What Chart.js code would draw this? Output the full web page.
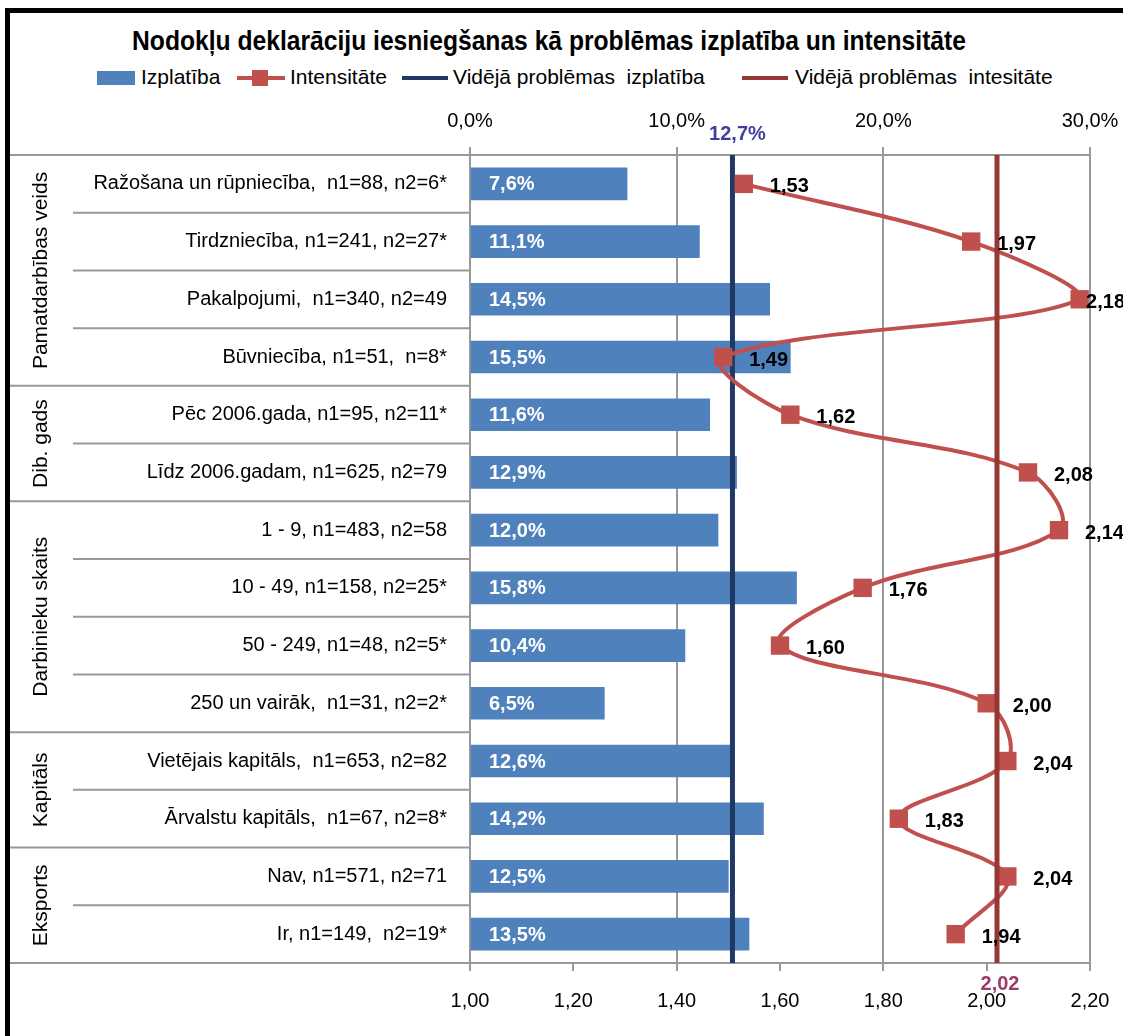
<!DOCTYPE html>
<html lang="lv">
<head>
<meta charset="UTF-8">
<title>Nodokļu deklarāciju iesniegšanas kā problēmas izplatība un intensitāte</title>
<script src="https://cdn.jsdelivr.net/npm/chart.js"></script>
<style>
  body { margin: 0; background: #fff; }
  #wrap { position: relative; width: 1123px; height: 1036px; overflow: hidden;
          font-family: "Liberation Sans Narrow", "Arial Narrow", "Liberation Sans", sans-serif; }
  #frame { position: absolute; left: 5px; top: 8px; width: 1300px; height: 1200px;
           border-left: 5px solid #000; border-top: 5px solid #000; }
  #title { position: absolute; left: 49px; top: 25px; width: 1000px; text-align: center;
           font-weight: bold; font-size: 28px; color: #000; white-space: nowrap;
           transform: scaleX(0.88); transform-origin: center; }
  .lg { position: absolute; top: 65px; font-size: 21px; color: #000; white-space: nowrap; }
  .sw { position: absolute; }
  canvas { position: absolute; left: 0; top: 0; }
</style>
</head>
<body>
<div id="wrap">
  <div id="frame"></div>
  <div id="title">Nodokļu deklarāciju iesniegšanas kā problēmas izplatība un intensitāte</div>

  <div class="sw" style="left:97px;top:71px;width:38px;height:14px;background:#4F81BD"></div>
  <div class="lg" style="left:141px">Izplatība</div>

  <div class="sw" style="left:237px;top:76px;width:48px;height:4px;background:#C0504D"></div>
  <div class="sw" style="left:252px;top:70px;width:16px;height:16px;background:#C0504D"></div>
  <div class="lg" style="left:290px">Intensitāte</div>

  <div class="sw" style="left:402px;top:76px;width:46px;height:4px;background:#1F3864"></div>
  <div class="lg" style="left:453px">Vidējā problēmas&nbsp; izplatība</div>

  <div class="sw" style="left:742px;top:76px;width:46px;height:4px;background:#953735"></div>
  <div class="lg" style="left:795px">Vidējā problēmas&nbsp; intesitāte</div>

  <canvas id="chart" width="1123" height="1036"></canvas>
</div>

<script>
// dati
const kategorijas = [
  'Ražošana un rūpniecība,  n1=88, n2=6*',
  'Tirdzniecība, n1=241, n2=27*',
  'Pakalpojumi,  n1=340, n2=49',
  'Būvniecība, n1=51,  n=8*',
  'Pēc 2006.gada, n1=95, n2=11*',
  'Līdz 2006.gadam, n1=625, n2=79',
  '1 - 9, n1=483, n2=58',
  '10 - 49, n1=158, n2=25*',
  '50 - 249, n1=48, n2=5*',
  '250 un vairāk,  n1=31, n2=2*',
  'Vietējais kapitāls,  n1=653, n2=82',
  'Ārvalstu kapitāls,  n1=67, n2=8*',
  'Nav, n1=571, n2=71',
  'Ir, n1=149,  n2=19*'
];
const izplatiba = [7.6, 11.1, 14.5, 15.5, 11.6, 12.9, 12.0, 15.8, 10.4, 6.5, 12.6, 14.2, 12.5, 13.5];
const intensitate = [1.53, 1.97, 2.18, 1.49, 1.62, 2.08, 2.14, 1.76, 1.60, 2.00, 2.04, 1.83, 2.04, 1.94];
const grupas = ['Pamatdarbības veids', 'Dib. gads', 'Darbinieku skaits', 'Kapitāls', 'Eksports'];
const grupuSakums = [0, 4, 6, 10, 12, 14];
const videjaIzplatiba = 12.7;
const videjaIntensitate = 2.02;
const procTicks = [0, 10, 20, 30];
const intTicks = [1.00, 1.20, 1.40, 1.60, 1.80, 2.00, 2.20];

const FONT = '"Liberation Sans Narrow", "Arial Narrow", "Liberation Sans", sans-serif';
const komats = (v, d) => v.toFixed(d).replace('.', ',');

// atdalītāji kreisajā pusē + grupu nosaukumi
const kreisaPuse = {
  id: 'kreisaPuse',
  afterDraw(chart) {
    const ctx = chart.ctx, a = chart.chartArea, y = chart.scales.y;
    const robeza = i => i === 0 ? a.top : (i === kategorijas.length ? a.bottom
      : (y.getPixelForValue(i - 1) + y.getPixelForValue(i)) / 2);
    ctx.save();
    ctx.strokeStyle = '#999';
    ctx.lineWidth = 2;
    for (let i = 0; i <= kategorijas.length; i++) {
      const yy = robeza(i);
      ctx.beginPath();
      ctx.moveTo(grupuSakums.includes(i) ? 10 : 73, yy);
      ctx.lineTo(a.left, yy);
      ctx.stroke();
    }
    ctx.fillStyle = '#000';
    ctx.font = '21px ' + FONT;
    ctx.textAlign = 'center';
    ctx.textBaseline = 'middle';
    grupas.forEach((g, k) => {
      const mid = (robeza(grupuSakums[k]) + robeza(grupuSakums[k + 1])) / 2;
      ctx.save();
      ctx.translate(41, mid);
      ctx.rotate(-Math.PI / 2);
      ctx.fillText(g, 0, 0);
      ctx.restore();
    });
    ctx.restore();
  }
};

// vidējās līnijas un vērtību uzraksti
const videjas = {
  id: 'videjas',
  beforeDatasetDraw(chart, args) {
    if (args.index !== 1) return;
    const ctx = chart.ctx, a = chart.chartArea;
    const x = chart.scales.x.getPixelForValue(videjaIzplatiba);
    ctx.save();
    ctx.strokeStyle = '#1F3864';
    ctx.lineWidth = 5;
    ctx.beginPath(); ctx.moveTo(x, a.top); ctx.lineTo(x, a.bottom); ctx.stroke();
    ctx.restore();
  },
  afterDatasetDraw(chart, args) {
    if (args.index !== 1) return;
    const ctx = chart.ctx, a = chart.chartArea;
    const x = chart.scales.x2.getPixelForValue(videjaIntensitate);
    ctx.save();
    ctx.strokeStyle = '#953735';
    ctx.lineWidth = 5;
    ctx.beginPath(); ctx.moveTo(x, a.top); ctx.lineTo(x, a.bottom); ctx.stroke();
    ctx.restore();
  },
  afterDatasetsDraw(chart) {
    const ctx = chart.ctx, a = chart.chartArea;
    ctx.save();
    ctx.font = 'bold 20px ' + FONT;
    ctx.textBaseline = 'middle';
    ctx.fillStyle = '#fff';
    ctx.textAlign = 'left';
    chart.getDatasetMeta(0).data.forEach((el, i) => {
      ctx.fillText(komats(izplatiba[i], 1) + '%', el.base + 18, el.y + 1);
    });
    ctx.fillStyle = '#000';
    chart.getDatasetMeta(1).data.forEach((el, i) => {
      const t = komats(intensitate[i], 2);
      const w = ctx.measureText(t).width;
      ctx.fillText(t, Math.min(el.x + 26, chart.width - w + 2), el.y + 3);
    });
    ctx.textAlign = 'center';
    ctx.fillStyle = '#3F3F9F';
    ctx.fillText(komats(videjaIzplatiba, 1) + '%', chart.scales.x.getPixelForValue(videjaIzplatiba) + 5, a.top - 21);
    ctx.fillStyle = '#9B3B6B';
    ctx.fillText(komats(videjaIntensitate, 2), chart.scales.x2.getPixelForValue(videjaIntensitate) + 3, a.bottom + 21);
    ctx.restore();
  }
};

new Chart(document.getElementById('chart'), {
  type: 'bar',
  data: {
    labels: kategorijas,
    datasets: [{
      label: 'Izplatība',
      data: izplatiba,
      xAxisID: 'x',
      backgroundColor: '#4F81BD',
      barThickness: 32,
      order: 2
    }, {
      type: 'line',
      label: 'Intensitāte',
      data: intensitate,
      xAxisID: 'x2',
      indexAxis: 'y',
      borderColor: '#C0504D',
      backgroundColor: '#C0504D',
      borderWidth: 4,
      tension: 0.35,
      pointStyle: 'rect',
      pointRadius: 13,
      pointBorderWidth: 0,
      order: 1
    }]
  },
  options: {
    indexAxis: 'y',
    responsive: false,
    animation: false,
    events: [],
    layout: { padding: { left: 0, right: 33, top: 0, bottom: 0 } },
    plugins: { legend: { display: false }, title: { display: false }, tooltip: { enabled: false } },
    scales: {
      y: {
        position: 'left',
        grid: { display: true, drawOnChartArea: false, drawTicks: false },
        border: { color: '#999', width: 2 },
        ticks: { color: '#000', font: { family: FONT, size: 20 }, padding: 23 },
        afterFit(s) { s.width = 470; s.paddingTop = 0; s.paddingBottom = 0; }
      },
      x: {
        position: 'top',
        min: 0, max: 30,
        afterBuildTicks(s) { s.ticks = procTicks.map(v => ({ value: v })); },
        ticks: { color: '#000', font: { family: FONT, size: 20 }, padding: 14,
                 callback: v => komats(v, 1) + '%' },
        grid: { color: '#999', lineWidth: 2, tickLength: 8 },
        border: { color: '#999', width: 2 },
        afterFit(s) { s.height = 155; s.paddingLeft = 0; s.paddingRight = 0; }
      },
      x2: {
        position: 'bottom',
        min: 1, max: 2.2,
        afterBuildTicks(s) { s.ticks = intTicks.map(v => ({ value: v })); },
        ticks: { color: '#000', font: { family: FONT, size: 20 }, padding: 18,
                 callback: v => komats(v, 2) },
        grid: { color: '#999', lineWidth: 2, tickLength: 8, drawOnChartArea: false },
        border: { color: '#999', width: 2 },
        afterFit(s) { s.height = 73; s.paddingLeft = 0; s.paddingRight = 0; }
      }
    }
  },
  plugins: [kreisaPuse, videjas]
});
</script>
</body>
</html>
